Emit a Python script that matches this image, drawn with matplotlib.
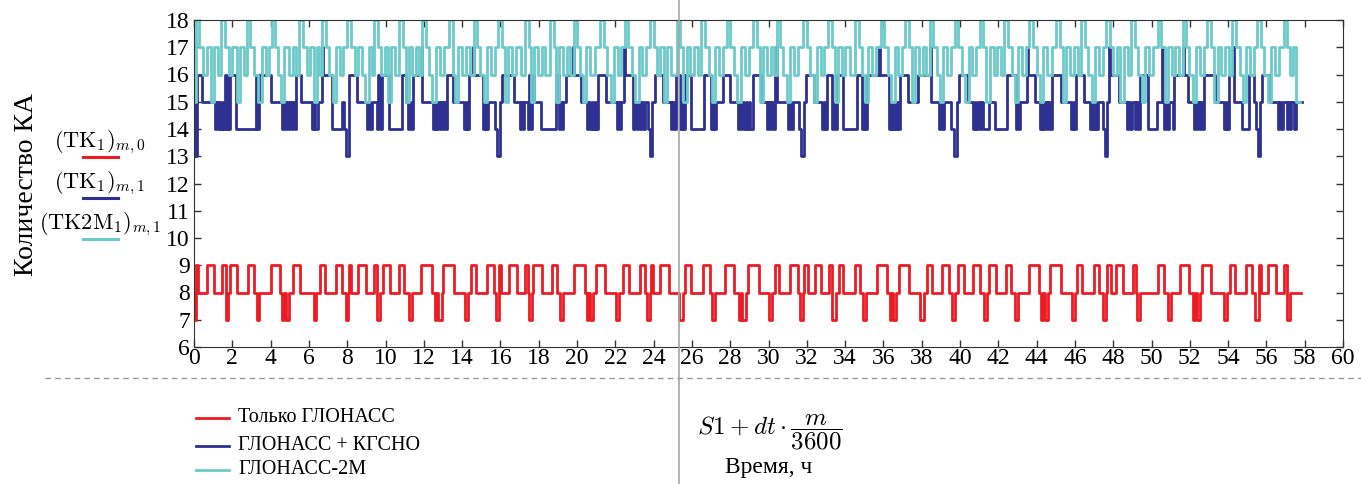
import matplotlib.pyplot as plt
from matplotlib.lines import Line2D

plt.rcParams['font.family'] = ['Liberation Serif', 'DejaVu Serif']
plt.rcParams['mathtext.fontset'] = 'cm'

# (time in hours, number of satellites) at each step change
red_steps = [
    (0.00, 8), (0.03, 7), (0.12, 9), (0.20, 8), (0.66, 9), (1.04, 8), (1.48, 9), (1.65, 7), (1.78, 8), (1.90, 9),
    (2.25, 8), (2.82, 9), (3.15, 8), (3.28, 7), (3.40, 8), (4.01, 9), (4.49, 8), (4.62, 7), (4.70, 8), (4.78, 7),
    (4.95, 8), (5.16, 9), (5.54, 8), (6.25, 7), (6.38, 8), (6.60, 9), (6.85, 8), (7.42, 9), (7.75, 8), (7.94, 7),
    (8.06, 8), (8.09, 9), (8.19, 8), (8.55, 9), (8.99, 8), (9.38, 9), (9.57, 7), (9.72, 8), (9.89, 9), (10.24, 8),
    (10.72, 9), (10.95, 8), (11.22, 7), (11.36, 8), (11.87, 9), (12.44, 8), (12.58, 7), (12.65, 8), (12.72, 7),
    (12.95, 8), (13.02, 9), (13.59, 8), (14.15, 7), (14.30, 8), (14.46, 9), (14.74, 8), (15.32, 9), (15.66, 8),
    (15.78, 7), (15.92, 9), (16.05, 8), (16.43, 9), (16.85, 8), (17.27, 9), (17.43, 8), (17.50, 7), (17.66, 8),
    (17.72, 9), (18.16, 8), (18.67, 9), (18.96, 8), (19.13, 7), (19.29, 8), (19.82, 9), (20.40, 8), (20.50, 7),
    (20.60, 8), (20.68, 7), (20.86, 8), (20.97, 9), (21.45, 8), (22.05, 7), (22.20, 8), (22.41, 9), (22.70, 8),
    (23.27, 9), (23.56, 8), (23.68, 7), (23.80, 8), (23.85, 9), (23.98, 8), (24.33, 9), (24.81, 8), (25.35, 7),
    (25.52, 8), (25.62, 9), (25.96, 8), (26.59, 9), (26.92, 8), (27.03, 7), (27.20, 8), (27.74, 9), (28.20, 8),
    (28.47, 7), (28.55, 8), (28.62, 7), (28.80, 8), (28.93, 9), (29.50, 8), (30.00, 7), (30.19, 8), (30.32, 9),
    (30.57, 8), (31.14, 9), (31.53, 8), (31.62, 7), (31.80, 8), (31.85, 9), (32.04, 8), (32.43, 9), (32.72, 8),
    (33.14, 9), (33.33, 7), (33.50, 8), (33.67, 9), (33.90, 8), (34.54, 9), (34.79, 8), (34.94, 7), (35.09, 8),
    (35.69, 9), (36.17, 8), (36.32, 7), (36.42, 8), (36.50, 7), (36.68, 8), (36.84, 9), (37.32, 8), (37.92, 7),
    (38.10, 8), (38.27, 9), (38.56, 8), (39.04, 9), (39.42, 8), (39.58, 7), (39.75, 8), (39.90, 9), (40.23, 8),
    (40.67, 9), (41.05, 8), (41.26, 7), (41.42, 8), (41.53, 9), (41.88, 8), (42.40, 9), (42.64, 8), (42.88, 7),
    (43.05, 8), (43.60, 9), (44.12, 8), (44.22, 7), (44.35, 8), (44.42, 7), (44.60, 8), (44.70, 9), (45.27, 8),
    (45.86, 7), (46.02, 8), (46.13, 9), (46.36, 8), (47.00, 9), (47.28, 8), (47.47, 7), (47.65, 8), (47.67, 9),
    (47.86, 8), (48.15, 9), (48.53, 8), (49.01, 9), (49.20, 8), (49.24, 7), (49.41, 8), (50.35, 9), (50.64, 8),
    (50.85, 7), (51.00, 8), (51.50, 9), (51.98, 8), (52.17, 7), (52.28, 8), (52.35, 7), (52.55, 8), (52.65, 9),
    (53.13, 8), (53.78, 7), (53.93, 8), (54.09, 9), (54.38, 8), (54.95, 9), (55.24, 8), (55.43, 7), (55.60, 9),
    (55.72, 8), (56.06, 9), (56.52, 8), (56.91, 9), (57.06, 7), (57.25, 8),
]
red_end = 57.8

blue_steps = [
    (0.00, 13), (0.05, 16), (0.09, 13), (0.14, 16), (0.40, 15), (1.10, 14), (1.17, 15), (1.24, 14), (1.31, 15),
    (1.38, 14), (1.45, 15), (1.52, 14), (1.60, 16), (1.67, 14), (1.75, 16), (1.82, 14), (1.87, 16), (2.21, 14),
    (3.25, 16), (3.30, 14), (3.38, 16), (4.00, 15), (4.62, 14), (4.70, 15), (4.78, 14), (4.86, 15), (4.94, 14),
    (5.02, 15), (5.10, 14), (5.18, 15), (5.26, 14), (5.33, 16), (5.60, 15), (6.18, 14), (6.26, 15), (6.34, 14),
    (6.45, 15), (6.68, 17), (6.74, 16), (7.22, 14), (7.75, 15), (7.85, 14), (7.95, 13), (8.10, 16), (8.50, 15),
    (9.03, 14), (9.11, 15), (9.19, 14), (9.29, 15), (9.55, 14), (9.63, 16), (9.71, 14), (9.81, 16), (10.16, 14),
    (10.85, 16), (11.05, 15), (11.16, 14), (11.24, 15), (11.32, 14), (11.45, 16), (11.88, 17), (11.93, 15),
    (12.50, 14), (12.58, 15), (12.66, 14), (12.74, 15), (12.82, 14), (12.90, 15), (12.98, 14), (13.06, 15),
    (13.14, 14), (13.20, 16), (13.50, 15), (14.12, 14), (14.20, 15), (14.28, 14), (14.38, 16), (14.58, 17),
    (14.63, 16), (15.10, 14), (15.18, 15), (15.26, 14), (15.36, 15), (15.70, 14), (15.82, 13), (16.00, 15),
    (16.10, 16), (16.70, 15), (17.00, 14), (17.08, 15), (17.16, 14), (17.25, 15), (17.42, 14), (17.50, 16),
    (17.58, 14), (17.66, 16), (17.78, 15), (18.10, 14), (18.90, 16), (19.05, 14), (19.13, 15), (19.21, 14),
    (19.29, 15), (19.40, 16), (19.78, 17), (19.83, 16), (20.20, 15), (20.52, 14), (20.60, 15), (20.68, 14),
    (20.76, 15), (20.84, 14), (20.92, 15), (21.00, 14), (21.10, 16), (21.50, 15), (22.08, 14), (22.16, 15),
    (22.24, 14), (22.32, 15), (22.48, 17), (22.53, 16), (22.95, 14), (23.03, 15), (23.11, 14), (23.19, 15),
    (23.27, 14), (23.35, 15), (23.45, 14), (23.55, 15), (23.72, 14), (23.82, 13), (23.92, 15), (24.05, 16),
    (24.50, 15), (24.90, 14), (24.98, 15), (25.06, 14), (25.16, 16), (25.40, 14), (25.48, 15), (25.56, 14),
    (25.66, 16), (25.96, 14), (26.65, 16), (27.00, 14), (27.08, 15), (27.16, 14), (27.26, 15), (27.60, 16),
    (28.00, 15), (28.40, 14), (28.48, 15), (28.56, 14), (28.64, 15), (28.72, 14), (28.80, 15), (28.88, 14),
    (28.96, 15), (29.04, 14), (29.18, 16), (29.60, 15), (29.90, 14), (29.98, 15), (30.06, 14), (30.14, 15),
    (30.22, 14), (30.32, 16), (30.40, 17), (30.45, 15), (31.00, 14), (31.08, 15), (31.16, 14), (31.26, 15),
    (31.60, 14), (31.72, 13), (31.85, 15), (31.95, 16), (32.40, 15), (32.80, 14), (32.88, 15), (32.96, 14),
    (33.06, 16), (33.30, 14), (33.38, 15), (33.46, 14), (33.56, 16), (33.90, 14), (34.60, 16), (34.90, 14),
    (34.98, 15), (35.06, 14), (35.16, 16), (35.75, 17), (35.80, 16), (36.30, 14), (36.38, 15), (36.46, 14),
    (36.54, 15), (36.62, 14), (36.70, 15), (36.78, 14), (36.88, 16), (37.30, 15), (37.80, 16), (38.45, 17),
    (38.50, 15), (38.90, 14), (38.98, 15), (39.06, 14), (39.16, 15), (39.55, 14), (39.68, 13), (39.82, 15),
    (39.95, 16), (40.40, 15), (40.70, 14), (40.78, 15), (40.86, 14), (40.94, 15), (41.02, 14), (41.10, 15),
    (41.18, 14), (41.50, 15), (41.85, 14), (42.45, 16), (42.90, 14), (42.98, 15), (43.06, 14), (43.14, 15),
    (43.48, 17), (43.53, 16), (43.90, 15), (44.20, 14), (44.28, 15), (44.36, 14), (44.44, 15), (44.52, 14),
    (44.60, 15), (44.68, 14), (44.80, 16), (45.30, 15), (45.80, 14), (45.88, 15), (45.96, 14), (46.08, 16),
    (46.50, 15), (46.80, 14), (46.88, 15), (46.96, 14), (47.04, 15), (47.12, 14), (47.22, 15), (47.45, 14),
    (47.58, 13), (47.70, 15), (47.80, 17), (47.85, 16), (48.30, 15), (48.70, 14), (48.78, 15), (48.86, 14),
    (48.96, 15), (49.12, 14), (49.20, 15), (49.28, 14), (49.38, 16), (49.80, 14), (50.30, 15), (50.55, 17),
    (50.60, 15), (50.65, 14), (50.73, 15), (50.81, 14), (50.90, 15), (51.10, 14), (51.20, 16), (51.65, 17),
    (51.70, 16), (51.90, 15), (52.20, 14), (52.28, 15), (52.36, 14), (52.44, 15), (52.52, 14), (52.60, 15),
    (52.68, 14), (52.75, 16), (53.30, 15), (53.80, 14), (53.88, 15), (53.96, 14), (54.05, 16), (54.28, 17),
    (54.33, 15), (54.70, 14), (55.10, 16), (55.35, 15), (55.45, 14), (55.55, 13), (55.68, 15), (55.78, 16),
    (56.20, 15), (56.60, 14), (56.68, 15), (56.76, 14), (56.86, 15), (57.05, 14), (57.13, 15), (57.21, 14),
    (57.30, 15), (57.45, 14), (57.55, 15),
]
blue_end = 57.85

cyan_steps = [
    (0.00, 16), (0.04, 15), (0.10, 18), (0.27, 17), (0.48, 16), (0.70, 17), (0.90, 15), (1.05, 17), (1.25, 16),
    (1.40, 18), (1.62, 17), (1.82, 16), (2.00, 17), (2.22, 15), (2.42, 17), (2.60, 16), (2.76, 18), (2.94, 17),
    (3.15, 16), (3.35, 15), (3.55, 17), (3.75, 16), (3.92, 17), (4.05, 18), (4.25, 17), (4.40, 16), (4.55, 15),
    (4.72, 17), (4.95, 16), (5.15, 17), (5.35, 16), (5.50, 18), (5.70, 17), (5.90, 16), (6.05, 17), (6.25, 15),
    (6.40, 17), (6.55, 16), (6.70, 18), (6.87, 17), (7.05, 16), (7.25, 15), (7.42, 17), (7.62, 16), (7.80, 17),
    (7.98, 18), (8.22, 17), (8.40, 16), (8.58, 17), (8.75, 16), (8.95, 15), (9.12, 17), (9.30, 16), (9.40, 18),
    (9.60, 17), (9.78, 16), (9.95, 17), (10.12, 15), (10.30, 17), (10.50, 16), (10.72, 18), (10.90, 17),
    (11.05, 15), (11.22, 17), (11.40, 16), (11.60, 17), (11.75, 16), (11.92, 18), (12.10, 17), (12.28, 16),
    (12.45, 15), (12.62, 17), (12.85, 16), (13.05, 17), (13.30, 18), (13.50, 16), (13.65, 15), (13.80, 17),
    (14.00, 16), (14.20, 17), (14.40, 16), (14.60, 18), (14.78, 17), (14.95, 16), (15.15, 15), (15.32, 17),
    (15.50, 16), (15.70, 17), (15.90, 18), (16.10, 17), (16.25, 15), (16.40, 17), (16.60, 16), (16.82, 17),
    (17.05, 16), (17.30, 18), (17.48, 17), (17.60, 15), (17.75, 17), (17.95, 16), (18.15, 17), (18.35, 16),
    (18.60, 18), (18.78, 17), (18.92, 15), (19.08, 17), (19.28, 16), (19.48, 17), (19.65, 16), (19.82, 18),
    (20.00, 17), (20.15, 16), (20.30, 15), (20.48, 17), (20.70, 16), (20.92, 17), (21.20, 18), (21.40, 17),
    (21.58, 16), (21.75, 15), (21.92, 17), (22.12, 16), (22.32, 17), (22.50, 18), (22.68, 17), (22.85, 16),
    (23.05, 15), (23.22, 17), (23.42, 16), (23.62, 17), (23.82, 18), (24.02, 17), (24.18, 16), (24.35, 17),
    (24.55, 15), (24.72, 17), (24.92, 16), (25.20, 18), (25.40, 17), (25.55, 15), (25.72, 17), (25.92, 16),
    (26.12, 17), (26.32, 16), (26.50, 18), (26.70, 17), (26.88, 16), (27.05, 15), (27.22, 17), (27.42, 16),
    (27.62, 17), (27.82, 18), (28.00, 17), (28.18, 16), (28.38, 15), (28.55, 17), (28.75, 16), (28.98, 17),
    (29.20, 18), (29.40, 17), (29.55, 15), (29.72, 17), (29.92, 16), (30.12, 17), (30.28, 16), (30.42, 18),
    (30.60, 17), (30.78, 16), (30.95, 15), (31.12, 17), (31.32, 16), (31.55, 17), (31.82, 18), (32.00, 17),
    (32.18, 16), (32.35, 15), (32.52, 17), (32.72, 16), (32.92, 17), (33.12, 18), (33.30, 17), (33.45, 15),
    (33.62, 17), (33.82, 16), (34.02, 17), (34.25, 16), (34.50, 18), (34.70, 17), (34.88, 16), (35.05, 15),
    (35.22, 17), (35.42, 16), (35.62, 17), (35.85, 18), (36.05, 17), (36.22, 16), (36.40, 15), (36.58, 17),
    (36.78, 16), (36.95, 17), (37.12, 18), (37.32, 17), (37.48, 15), (37.65, 17), (37.85, 16), (38.05, 17),
    (38.25, 16), (38.42, 18), (38.60, 17), (38.78, 16), (38.95, 15), (39.12, 17), (39.32, 16), (39.52, 17),
    (39.72, 18), (39.92, 17), (40.10, 16), (40.28, 15), (40.45, 17), (40.65, 16), (40.85, 17), (41.02, 18),
    (41.20, 17), (41.38, 15), (41.55, 17), (41.75, 16), (41.95, 17), (42.15, 16), (42.32, 18), (42.52, 17),
    (42.70, 16), (42.88, 15), (43.05, 17), (43.25, 16), (43.45, 17), (43.62, 18), (43.82, 17), (44.00, 16),
    (44.18, 15), (44.35, 17), (44.55, 16), (44.78, 17), (45.02, 18), (45.22, 17), (45.38, 15), (45.55, 17),
    (45.75, 16), (45.95, 17), (46.15, 16), (46.32, 18), (46.52, 17), (46.70, 16), (46.88, 15), (47.05, 17),
    (47.25, 16), (47.45, 17), (47.62, 18), (47.82, 17), (48.00, 16), (48.18, 17), (48.38, 15), (48.55, 17),
    (48.75, 16), (48.92, 18), (49.12, 17), (49.30, 16), (49.48, 15), (49.65, 17), (49.85, 16), (50.08, 17),
    (50.32, 18), (50.52, 17), (50.68, 15), (50.85, 17), (51.05, 16), (51.25, 17), (51.45, 16), (51.62, 18),
    (51.80, 17), (51.98, 16), (52.15, 15), (52.32, 17), (52.52, 16), (52.72, 17), (52.92, 18), (53.12, 17),
    (53.28, 15), (53.45, 17), (53.65, 16), (53.85, 17), (54.05, 16), (54.22, 18), (54.42, 17), (54.60, 16),
    (54.78, 15), (54.95, 17), (55.15, 16), (55.35, 17), (55.52, 18), (55.72, 17), (55.90, 16), (56.08, 15),
    (56.25, 17), (56.45, 16), (56.65, 17), (56.92, 18), (57.10, 17), (57.25, 16), (57.40, 17), (57.55, 15),
]
cyan_end = 57.75

series_names = ['Только ГЛОНАСС', 'ГЛОНАСС + КГСНО', 'ГЛОНАСС-2М']
series_tags = [r'$(\mathrm{TK}_1)_{m,0}$', r'$(\mathrm{TK}_1)_{m,1}$', r'$(\mathrm{TK2M}_1)_{m,1}$']
colors = ['#ed1c24', '#2e3192', '#6ccbca']

x_ticks = list(range(0, 61, 2))
y_ticks = list(range(6, 19))


def unpack(steps, end):
    t = [s[0] for s in steps] + [end]
    v = [s[1] for s in steps] + [steps[-1][1]]
    return t, v


W, H = 1361, 484
fig = plt.figure(figsize=(W / 100, H / 100), dpi=100)

def fx(px):
    return px / W

def fy(py):
    return 1 - py / H

ax = fig.add_axes([fx(194), fy(347), fx(1343) - fx(194), fy(20) - fy(347)])

for steps, end, c in zip([red_steps, blue_steps, cyan_steps], [red_end, blue_end, cyan_end], colors):
    t, v = unpack(steps, end)
    ax.step(t, v, where='post', color=c, lw=2.0)

ax.set_xlim(0, 60)
ax.set_ylim(6, 18)
ax.set_xticks(x_ticks)
ax.set_yticks(y_ticks)
ax.tick_params(direction='in', top=True, right=True, length=5, width=1, labelsize=17, color='#333333')
ax.tick_params(axis='x', pad=1)
ax.tick_params(axis='y', pad=3)
for s in ax.spines.values():
    s.set_color('#333333')

# vertical separator across the whole figure and dashed line under the axis
fig.add_artist(Line2D([fx(679), fx(679)], [0, 1], color='#a6a6a6', lw=1.2))
fig.add_artist(Line2D([fx(45), 1], [fy(378), fy(378)], color='#999999', lw=1, ls=(0, (4, 3))))

fig.text(fx(27), fy(185), 'Количество КА', rotation=90, ha='center', va='center', fontsize=20)

# tags on the left
for i, (tag, c) in enumerate(zip(series_tags, colors)):
    yt = 142 + 41 * i
    fig.text(fx(100), fy(yt), tag, ha='center', va='center', fontsize=16)
    fig.add_artist(Line2D([fx(83), fx(118)], [fy(yt + 15), fy(yt + 15)], color=c, lw=2.2))

# legend at the bottom left
for i, (name, c) in enumerate(zip(series_names, colors)):
    yl = [418, 446, 470][i]
    fig.add_artist(Line2D([fx(196), fx(229)], [fy(yl), fy(yl)], color=c, lw=2))
    fig.text(fx(238), fy(yl), name, ha='left', va='center', fontsize=14.5)

fig.text(fx(697), fy(432), r'$S1+dt\cdot\dfrac{m}{\mathrm{3600}}$', ha='left', va='center', fontsize=18)
fig.text(fx(769), fy(467), 'Время, ч', ha='center', va='center', fontsize=17)

fig.savefig('out.png', dpi=100)
